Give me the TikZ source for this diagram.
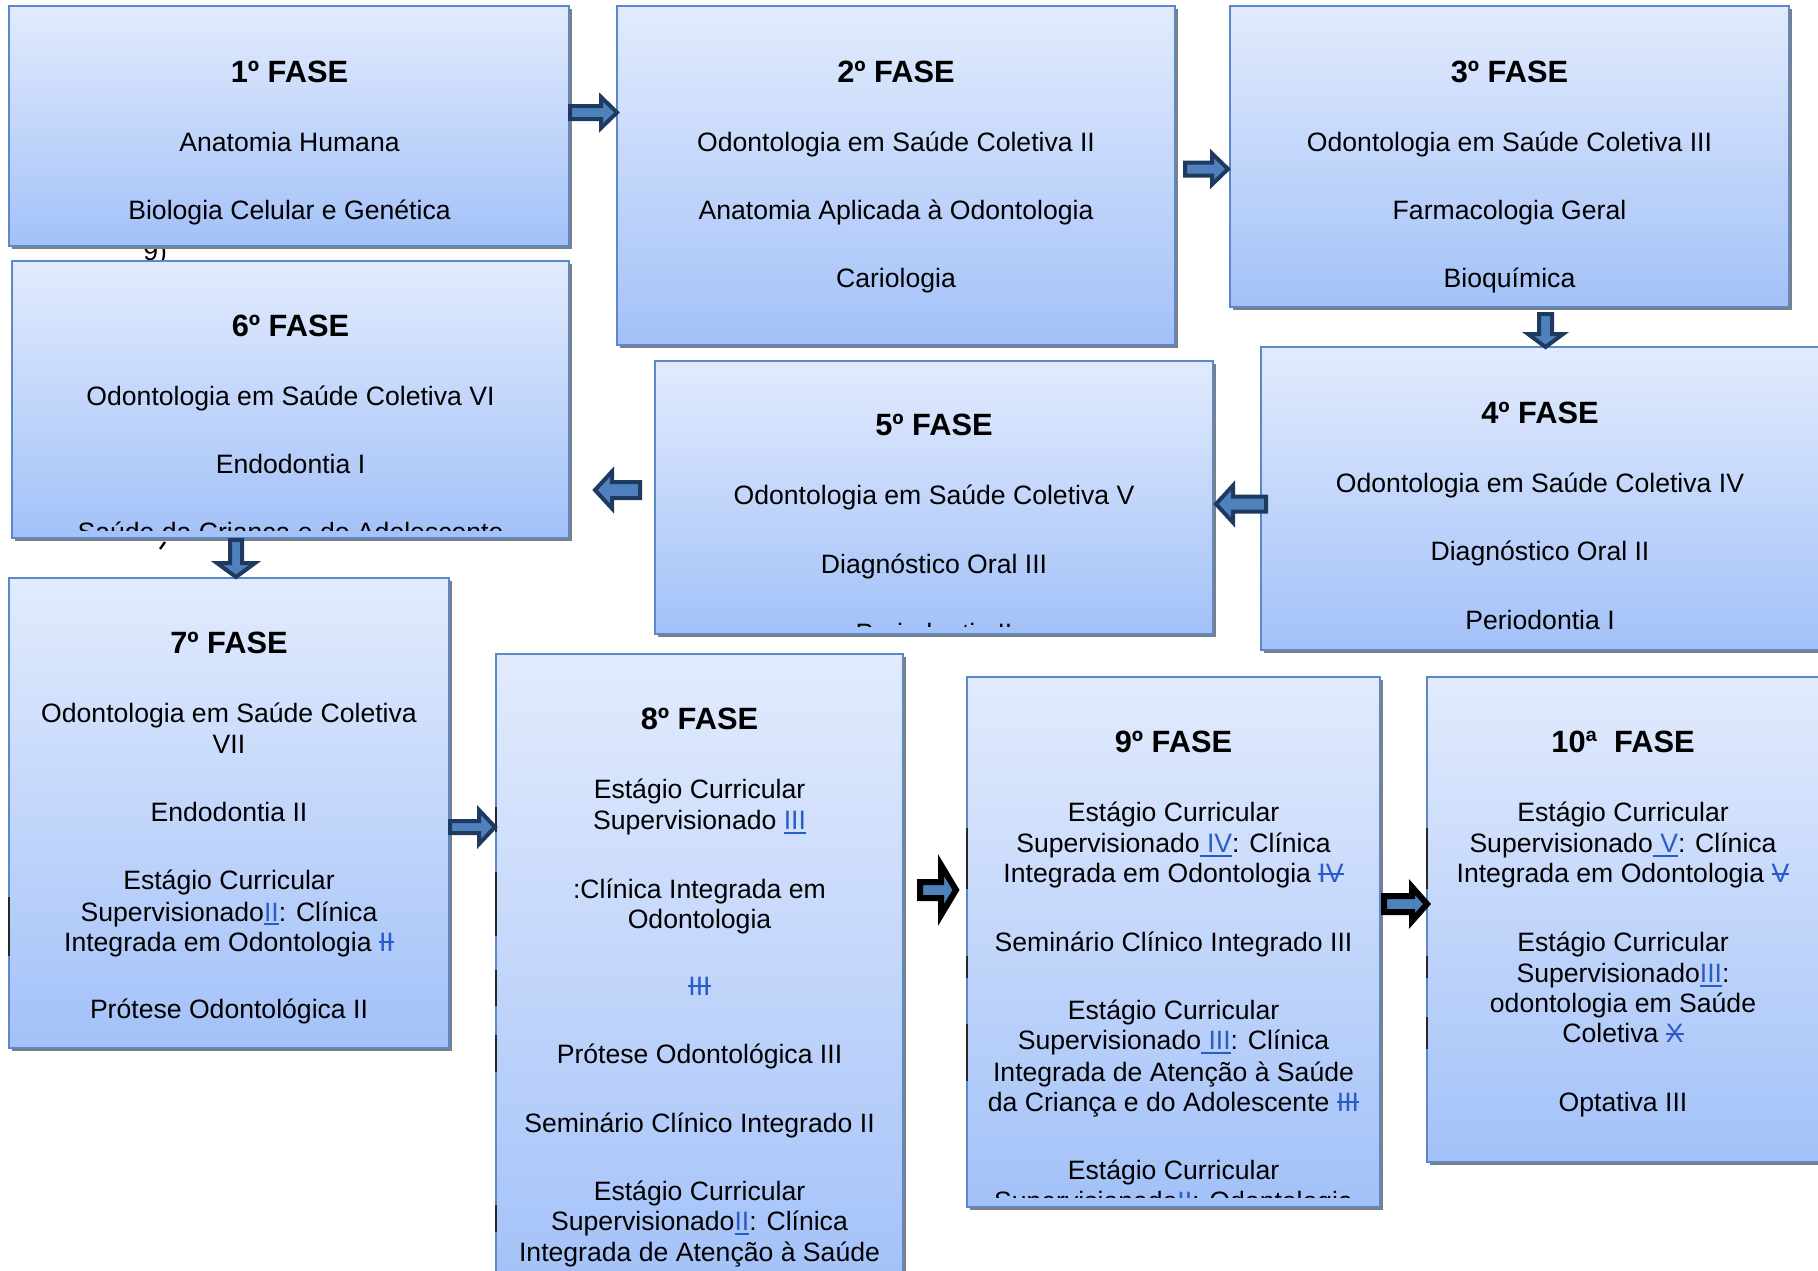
\documentclass[tikz,border=0pt]{standalone}
\usepackage{fontspec}
\setmainfont{Liberation Sans}
\usetikzlibrary{fit,shadows}
\definecolor{boxtop}{HTML}{E2EBFD}
\definecolor{boxbot}{HTML}{A3C1F8}
\definecolor{boxline}{HTML}{5A88C8}
\definecolor{shadowgray}{HTML}{7F7F7F}
\definecolor{arrowfill}{HTML}{4F81BD}
\definecolor{arrowline}{HTML}{1F3A60}
\definecolor{lb}{HTML}{2A5CC8}
\newcommand\unl[1]{{\color{lb}\setbox0\hbox{#1}\rlap{\rule[-0.16em]{\wd0}{0.07em}}\box0}}
\newcommand\stk[1]{{\color{lb}\setbox0\hbox{#1}\rlap{\rule[0.3em]{\wd0}{0.07em}}\box0}}
% block arrow: #1 style, #2 tail x, #3 y, #4 rotation, #5 length, #6 shaft half, #7 head half, #8 head length
\newcommand\barr[8]{\begin{scope}[shift={(#2,#3)},rotate=#4]\path[#1] (0,-#6) -- ({#5-#8},-#6) -- ({#5-#8},-#7) -- (#5,0) -- ({#5-#8},#7) -- ({#5-#8},#6) -- (0,#6) -- cycle;\end{scope}}
\tikzset{
  phase/.style={draw=boxline, line width=0.6pt, top color=boxtop, bottom color=boxbot, inner sep=0pt,
    drop shadow={shadow xshift=1.5pt, shadow yshift=-1.5pt, fill=shadowgray, opacity=1}},
  body/.style={font=\fontsize{13.3}{16}\selectfont, anchor=base, inner sep=0pt},
  title/.style={font=\fontsize{15.4}{18}\selectfont\bfseries, anchor=base, inner sep=0pt},
  barrow/.style={fill=arrowfill, draw=arrowline, line width=2pt},
  karrow/.style={fill=arrowfill, draw=black, line width=3pt},
  edgemark/.style={draw=black!85, line width=1pt},
}
\begin{document}
\begin{tikzpicture}[x=0.5pt,y=-0.5pt]
\useasboundingbox (0,0) rectangle (1818,1270);
\clip (0,0) rectangle (1818,1270);
\fill[white] (0,0) rectangle (1818,1270);

% stray fragments
\node[body, anchor=base west] (frag9) at (143,260) {9)};
\draw[line width=1.2pt] (165,542) -- (160,549);

% ---------- boxes ----------
\node[phase, fit={(9,6) (569,246)}] (b1) {};
\node[phase, fit={(617,6) (1175,345)}] (b2) {};
\node[phase, fit={(1230,6) (1789,307)}] (b3) {};
\node[phase, fit={(1261,347) (1822,650)}] (b4) {};
\node[phase, fit={(655,361) (1213,634)}] (b5) {};
\node[phase, fit={(12,261) (569,538)}] (b6) {};
\node[phase, fit={(9,578) (449,1048)}] (b7) {};
\node[phase, fit={(496,654) (903,1290)}] (b8) {};
\node[phase, fit={(967,677) (1380,1207)}] (b9) {};
\node[phase, fit={(1427,677) (1822,1162)}] (b10) {};

% ---------- texts ----------
\node[title] (h1) at (289.5,82) {1º FASE};
\foreach \yy/\txt [count=\k] in {151/Anatomia Humana, 219.5/Biologia Celular e Genética}
  \node[body] (t1-\k) at (289.5,\yy) {\txt};

\node[title] (h2) at (896,82) {2º FASE};
\foreach \yy/\txt [count=\k] in {151/Odontologia em Saúde Coletiva II, 219.5/Anatomia Aplicada à Odontologia, 287/Cariologia}
  \node[body] (t2-\k) at (896,\yy) {\txt};

\node[title] (h3) at (1509.5,82) {3º FASE};
\foreach \yy/\txt [count=\k] in {151/Odontologia em Saúde Coletiva III, 219.5/Farmacologia Geral, 287/Bioquímica}
  \node[body] (t3-\k) at (1509.5,\yy) {\txt};

\node[title] (h4) at (1540,423) {4º FASE};
\foreach \yy/\txt [count=\k] in {492/Odontologia em Saúde Coletiva IV, 560.5/Diagnóstico Oral II, 629/Periodontia I}
  \node[body] (t4-\k) at (1540,\yy) {\txt};

\begin{scope}
\clip ([yshift=4pt]b5.south west) rectangle (b5.north east);
\node[title] (h5) at (934,435.5) {5º FASE};
\foreach \yy/\txt [count=\k] in {504.5/Odontologia em Saúde Coletiva V, 573/Diagnóstico Oral III, 642.5/Periodontia II}
  \node[body] (t5-\k) at (934,\yy) {\txt};
\end{scope}

\begin{scope}
\clip ([yshift=4pt]b6.south west) rectangle (b6.north east);
\node[title] (h6) at (290.5,336) {6º FASE};
\foreach \yy/\txt [count=\k] in {405/Odontologia em Saúde Coletiva VI, 473.5/Endodontia I, 541.5/Saúde da Criança e do Adolescente}
  \node[body] (t6-\k) at (290.5,\yy) {\txt};
\end{scope}

\node[title] (h7) at (229,653.5) {7º FASE};
\foreach \yy/\txt [count=\k] in {722.5/Odontologia em Saúde Coletiva, 753/VII, 821/Endodontia II,
  889.5/Estágio Curricular, 921/Supervisionado\unl{II}: Clínica, 951/Integrada em Odontologia \stk{II},
  1018.5/Prótese Odontológica II}
  \node[body] (t7-\k) at (229,\yy) {\txt};

\node[title] (h8) at (699.5,729) {8º FASE};
\foreach \yy/\txt [count=\k] in {798/Estágio Curricular, 829.5/Supervisionado \unl{III}, 898/:Clínica Integrada em,
  928/Odontologia, 995/\stk{III}, 1063.5/Prótese Odontológica III, 1132/Seminário Clínico Integrado II,
  1200.5/Estágio Curricular, 1230.5/Supervisionado\unl{II}: Clínica, 1261/Integrada de Atenção à Saúde}
  \node[body] (t8-\k) at (699.5,\yy) {\txt};

\begin{scope}
\clip ([yshift=5pt]b9.south west) rectangle (b9.north east);
\node[title] (h9) at (1173.5,752) {9º FASE};
\foreach \yy/\txt [count=\k] in {821/Estágio Curricular, 852.5/Supervisionado\unl{ IV}: Clínica,
  882.5/Integrada em Odontologia \stk{IV}, 951/Seminário Clínico Integrado III,
  1019.5/Estágio Curricular, 1049.5/Supervisionado\unl{ III}: Clínica, 1081/Integrada de Atenção à Saúde,
  1111/da Criança e do Adolescente \stk{III}, 1179.5/Estágio Curricular, 1210.5/Supervisionado\unl{II}: Odontologia}
  \node[body] (t9-\k) at (1173.5,\yy) {\txt};
\end{scope}

\node[title] (h10) at (1623,752) {10ª~ FASE};
\foreach \yy/\txt [count=\k] in {821/Estágio Curricular, 852.5/Supervisionado\unl{ V}: Clínica,
  882.5/Integrada em Odontologia \stk{V}, 951/Estágio Curricular, 982.5/Supervisionado\unl{III}:,
  1012.5/odontologia em Saúde, 1042.5/Coletiva \stk{X}, 1111/Optativa III}
  \node[body] (t10-\k) at (1623,\yy) {\txt};

% ---------- edge artifacts ----------
\draw[edgemark] (9,897) -- (9,956);
\foreach \ya/\yb in {807/832, 872/936, 970/1006, 1035/1072, 1205/1232}
  \draw[edgemark] (496,\ya) -- (496,\yb);
\foreach \ya/\yb in {828/889, 956/978, 1024/1081}
  \draw[edgemark] (967,\ya) -- (967,\yb);
\foreach \ya/\yb in {828/889, 956/978, 1017/1049}
  \draw[edgemark] (1427,\ya) -- (1427,\yb);

% ---------- arrows ----------
\barr{barrow}{570}{112.5}{0}{47}{6.5}{15.5}{16}
\barr{barrow}{1185}{169}{0}{43}{6.5}{15.5}{16}
\barr{barrow}{1545.5}{314}{-90}{33}{6.5}{17.5}{13}
\barr{barrow}{1266}{504}{180}{50}{7.5}{18.5}{17}
\barr{barrow}{640}{490}{180}{45}{8}{18.5}{17}
\barr{barrow}{236}{540}{-90}{37}{6}{19}{14}
\barr{barrow}{450}{827}{0}{45}{6}{17}{16}
\barr{karrow}{920}{890}{0}{36}{8}{25}{15}
\barr{karrow}{1384}{904}{0}{43}{8}{17}{15}
\end{tikzpicture}
\end{document}
